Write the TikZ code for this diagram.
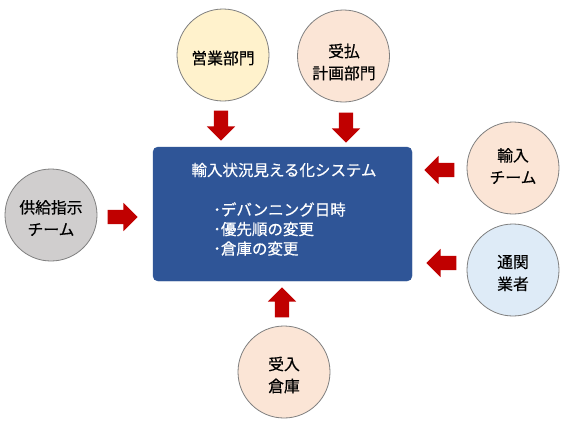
\documentclass[tikz,border=0pt]{standalone}
\usepackage{fontspec}
\setmainfont{Noto Sans CJK JP}[FakeBold=0.5]
\usetikzlibrary{shapes.arrows}
\definecolor{boxblue}{HTML}{2F5597}
\definecolor{arrowred}{HTML}{C00000}
\definecolor{circgray}{HTML}{7F7F7F}
\definecolor{fyellow}{HTML}{FFF2CC}
\definecolor{fpeach}{HTML}{FBE5D6}
\definecolor{fgray}{HTML}{D0CECE}
\definecolor{fblue}{HTML}{DEEBF7}
\newcommand{\jpf}{\fontsize{15.8bp}{22bp}\selectfont}
\begin{document}
\begin{tikzpicture}[x=1bp,y=-1bp,
  circ/.style={circle, draw=circgray, line width=0.8bp, minimum size=92bp, inner sep=0pt},
  circtext/.style={align=center, font=\jpf, text=black, inner sep=0pt},
  blockarrow/.style={single arrow, fill=arrowred, draw=none, minimum height=30bp, minimum width=28bp, single arrow head extend=7bp, inner xsep=0pt, inner ysep=7bp},
  sysbox/.style={fill=boxblue, draw=boxblue, rounded corners=5bp, minimum width=259bp, minimum height=134bp, inner sep=0pt},
  boxtext/.style={text=white, font=\fontsize{15.5bp}{19.5bp}\selectfont, inner sep=0pt}
]
\useasboundingbox (0,0) rectangle (570,424);
\fill[white] (0,0) rectangle (570,424);

% central box
\node[sysbox] (sys) at (282.5,214) {};
\node[boxtext] (title) at (284,170) {輸入状況見える化システム};
\node[boxtext, align=left, anchor=west] (items) at (213,229) {･デバンニング日時\\･優先順の変更\\･倉庫の変更};

% circles
\node[circ, fill=fyellow] (eigyo) at (223,55) {};
\node[circtext] (eigyo-t) at (223,58) {営業部門};
\node[circ, fill=fpeach] (ukebarai) at (343.5,56) {};
\node[circtext] (ukebarai-t) at (344,62) {受払\\計画部門};
\node[circ, fill=fgray] (kyokyu) at (51,215) {};
\node[circtext] (kyokyu-t) at (51,218) {供給指示\\チーム};
\node[circ, fill=fpeach] (yunyu) at (513,168) {};
\node[circtext] (yunyu-t) at (513,166) {輸入\\チーム};
\node[circ, fill=fblue] (tsukan) at (513,270) {};
\node[circtext] (tsukan-t) at (513,273) {通関\\業者};
\node[circ, fill=fpeach] (ukeire) at (284,372) {};
\node[circtext] (ukeire-t) at (284,375) {受入\\倉庫};

% block arrows
\node[blockarrow, rotate=-90] (a1) at (221,122) {};
\node[blockarrow, rotate=-90] (a2) at (346,124) {};
\node[blockarrow] (a3) at (119,217) {};
\node[blockarrow, rotate=180] (a4) at (443,170) {};
\node[blockarrow, rotate=180] (a5) at (445,263) {};
\node[blockarrow, rotate=90] (a6) at (282,306) {};
\end{tikzpicture}
\end{document}
